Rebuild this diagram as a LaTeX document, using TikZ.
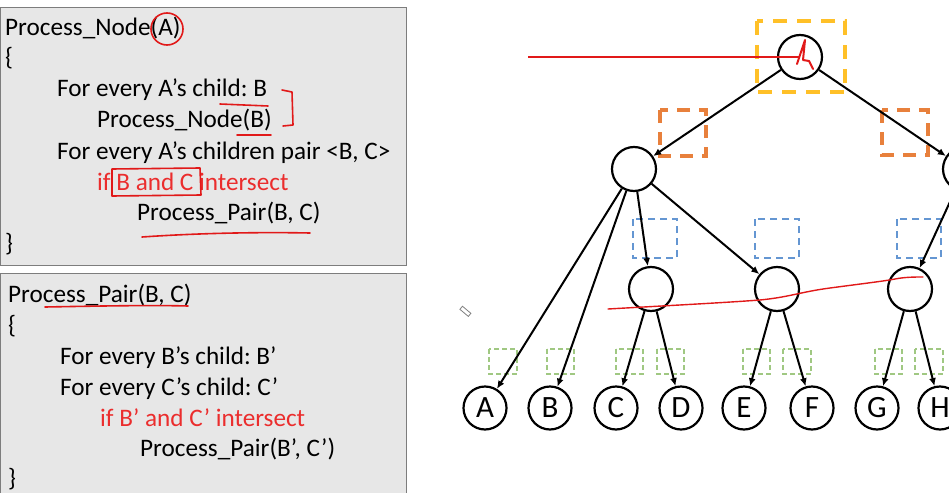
\documentclass[tikz,border=0pt]{standalone}
\usepackage{fontspec}
\setmainfont{Carlito}
\usetikzlibrary{arrows.meta}
\frenchspacing
\definecolor{boxgray}{RGB}{231,231,231}
\definecolor{boxedge}{RGB}{125,125,125}
\definecolor{pred}{RGB}{235,45,45}
\definecolor{mred}{RGB}{225,25,25}
\definecolor{myellow}{RGB}{255,192,40}
\definecolor{morange}{RGB}{232,128,60}
\definecolor{mblue}{RGB}{100,150,210}
\definecolor{mgreen}{RGB}{160,200,130}
\tikzset{
  codebox/.style={fill=boxgray,draw=boxedge,line width=1pt},
  codeline/.style={anchor=base west,inner sep=0,font=\fontsize{25.2}{30}\selectfont},
  codered/.style={codeline,text=pred},
  tnode/.style={draw,circle,line width=2.2pt,minimum size=44pt,inner sep=0,font=\fontsize{31}{34}\selectfont},
  leaf/.style={tnode,minimum size=43pt},
  edge/.style={line width=2pt,-{Latex[length=8pt,width=7pt]},shorten >=0pt},
  ink/.style={mred,line width=1.6pt,line cap=round,line join=round},
  ybox/.style={draw=myellow,line width=4pt,dash pattern=on 14pt off 10pt},
  obox/.style={draw=morange,line width=3.5pt,dash pattern=on 13pt off 9pt},
  bbox/.style={draw=mblue,line width=1.8pt,dash pattern=on 7pt off 5pt},
  gbox/.style={draw=mgreen,line width=1.2pt,dash pattern=on 5pt off 3pt},
}
\begin{document}
\begin{tikzpicture}[x=1pt,y=-1pt]
\clip (0,0) rectangle (949,492);
\fill[white] (0,0) rectangle (949,492);
% code box 1
\draw[codebox] (0,8) rectangle (406,265);
\node[codeline] (l1) at (5,36) {Process\_Node(A)};
\node[codeline] (l2) at (5,66) {\{};
\node[codeline] (l3) at (57,97) {For every A’s child: B};
\node[codeline] (l4) at (97,128) {Process\_Node(B)};
\node[codeline] (l5) at (57,159) {For every A’s children pair <B, C>};
\node[codered] (l6) at (97,190) {if B and C intersect};
\node[codeline] (l7) at (137,220) {Process\_Pair(B, C)};
\node[codeline] (l8) at (5,251) {\}};
% code box 2
\draw[codebox] (0,273) rectangle (406,500);
\node[codeline] (m1) at (8,302) {Process\_Pair(B, C)};
\node[codeline] (m2) at (8,333) {\{};
\node[codeline] (m3) at (60,364) {For every B’s child: B’};
\node[codeline] (m4) at (60,395) {For every C’s child: C’};
\node[codered] (m5) at (100,426) {if B’ and C’ intersect};
\node[codeline] (m6) at (140,456) {Process\_Pair(B’, C’)};
\node[codeline] (m7) at (8,486) {\}};
% red annotations on code
\draw[ink] (167,29) ellipse [x radius=16, y radius=16];
\draw[ink] (220,104) -- (268,106);
\draw[ink] (237,135) -- (271,135);
\draw[ink] (282,90) -- (292,92) -- (293,125) -- (283,126);
\draw[ink] (112,169) -- (200,168) -- (201,195) -- (112,196) -- cycle;
\draw[ink] (142,237) .. controls (200,233) and (260,232) .. (310,233);
\draw[ink] (45,307) .. controls (100,306) and (150,305) .. (188,306);
% dashed boxes
\draw[ybox] (757,21) rectangle (845,92);
\draw[obox] (660,110) rectangle (706,156);
\draw[obox] (882,110) rectangle (928,155);
\draw[bbox] (633,219) rectangle (677,258);
\draw[bbox] (755,219) rectangle (799,258);
\draw[bbox] (897,219) rectangle (941,258);
\foreach \a/\b in {489/517,547/574,616/643,657/684,743/770,783/811,875/902,915/943}
  \draw[gbox] (\a,349) rectangle (\b,374);
% tree nodes
\node[tnode] (r) at (800,57) {};
\node[tnode] (p) at (634,169) {};
\node[tnode] (q) at (965,169) {};
\node[tnode] (n1) at (651,289) {};
\node[tnode] (n2) at (777,289) {};
\node[tnode] (n3) at (910,289) {};
\node[leaf] (A) at (485,408) {A};
\node[leaf] (B) at (550,408) {B};
\node[leaf] (C) at (616,408) {C};
\node[leaf] (D) at (681,408) {D};
\node[leaf] (E) at (744,408) {E};
\node[leaf] (F) at (812,408) {F};
\node[leaf] (G) at (877,408) {G};
\node[leaf] (H) at (940,408) {H};
% edges
\draw[edge] (r) -- (p);
\draw[edge] (r) -- (q);
\draw[edge] (p) -- (A);
\draw[edge] (p) -- (B);
\draw[edge] (p) -- (n1);
\draw[edge] (p) -- (n2);
\draw[edge] (q) -- (n3);
\draw[edge] (n1) -- (C);
\draw[edge] (n1) -- (D);
\draw[edge] (n2) -- (E);
\draw[edge] (n2) -- (F);
\draw[edge] (n3) -- (G);
\draw[edge] (n3) -- (H);
% red ink on tree
\coordinate (lineend) at (528,57);
\draw[mred,line width=1.1pt] (lineend) -- (r.center);
\draw[ink,line width=2pt] (797,64) -- (805,40) -- (803,60) -- (809,61) -- (813,69);
\draw[ink,line width=1.4pt] (608,309) .. controls (660,306) and (720,303) .. (760,300)
  .. controls (790,297) and (800,292) .. (830,288) .. controls (860,284) and (885,281) .. (895,279)
  .. controls (905,277) and (915,277) .. (923,277);
% pencil cursor
\draw[gray,line width=0.8pt,rotate around={-40:(465,311)}] (460,309) rectangle (471,313);
\end{tikzpicture}
\end{document}
